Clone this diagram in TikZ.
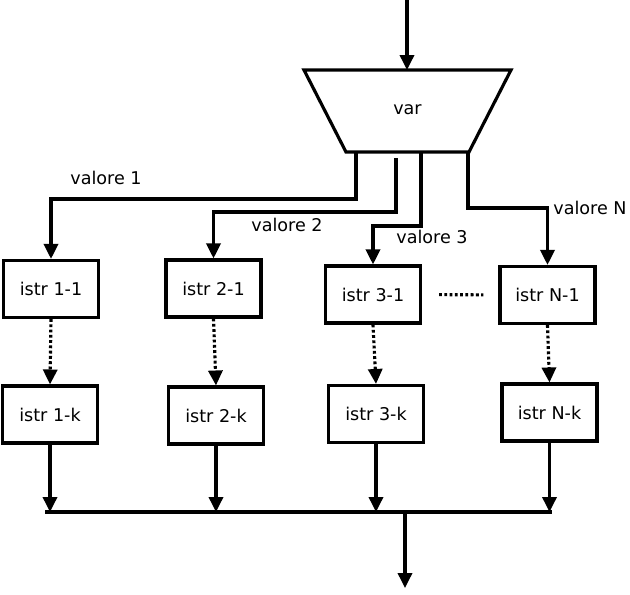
\documentclass[tikz,border=0pt]{standalone}
\usepackage{fontspec}
\setmainfont{DejaVu Sans}
\usepackage{tikz}
\usetikzlibrary{arrows.meta}

\tikzset{
	wire/.style={line width=1.8pt},
	arr/.style={wire, -{Triangle[width=8pt,length=8.5pt]}},
	dotarr/.style={arr, dash pattern=on 1.6pt off 1.4pt},
	istr/.style={draw, line width=1.8pt, shape=rectangle, minimum width=1.9cm, minimum height=1.14cm, inner sep=0pt, font=\fontsize{10}{12}\selectfont},
	lbl/.style={font=\fontsize{10}{12}\selectfont, inner sep=0pt}
}

\begin{document}
\begin{tikzpicture}[x=0.02cm, y=-0.02cm]
				\useasboundingbox (0, 0) rectangle (630, 595);
				% Paths, nodes and wires:
				\draw[wire, line join=miter] (304, 70) -- (511, 70) -- (469, 152) -- (346, 152) -- cycle;
				\node[lbl](var) at (407.5, 110){var};
				\coordinate (in) at (407, 0);
				\coordinate (vartop) at (407, 70);
				\draw[arr] (in) -- (vartop);
				% first row
				\node[istr](b11) at (51, 289){istr 1-1};
				\node[istr](b21) at (213.5, 288.5){istr 2-1};
				\node[istr](b31) at (373, 294.5){istr 3-1};
				\node[istr](bN1) at (547.5, 295){istr N-1};
				% second row
				\node[istr](b1k) at (50, 414.5){istr 1-k};
				\node[istr](b2k) at (216, 415.5){istr 2-k};
				\node[istr](b3k) at (376, 414){istr 3-k};
				\node[istr](bNk) at (549.5, 412.5){istr N-k};
				% outputs of var
				\coordinate (o1) at (356, 152);
				\coordinate (o2) at (396, 158);
				\coordinate (o3) at (421, 152);
				\coordinate (oN) at (468, 152);
				\draw[arr] (o1) -- (356, 199) -| (b11.north);
				\draw[arr] (o2) -- (396, 212) -| (b21.north);
				\draw[arr] (o3) -- (421, 226) -| (b31.north);
				\draw[arr] (oN) -- (468, 208) -| (bN1.north);
				\node[lbl](v1) at (106, 178){valore 1};
				\node[lbl](v2) at (287, 225){valore 2};
				\node[lbl](v3) at (432, 237){valore 3};
				\node[lbl](vN) at (590, 208){valore N};
				% dotted
				\draw[wire, dash pattern=on 1.6pt off 1.4pt, shorten <=17*0.02cm, shorten >=15*0.02cm] (b31.east) -- (bN1.west);
				\draw[dotarr] (b11.south) -- (b1k.north);
				\draw[dotarr] (b21.south) -- (b2k.north);
				\draw[dotarr] (b31.south) -- (b3k.north);
				\draw[dotarr] (bN1.south) -- (bNk.north);
				% merge
				\coordinate (busL) at (45, 512);
				\coordinate (busR) at (552, 512);
				\coordinate (busout) at (405, 512);
				\coordinate (out) at (405, 588);
				\draw[arr] (b1k.south) -- (b1k.south |- busL);
				\draw[arr] (b2k.south) -- (b2k.south |- busL);
				\draw[arr] (b3k.south) -- (b3k.south |- busL);
				\draw[arr] (bNk.south) -- (bNk.south |- busL);
				\draw[wire] (busL) -- (busR);
				\draw[arr] (busout) -- (out);
			\end{tikzpicture}
\end{document}
